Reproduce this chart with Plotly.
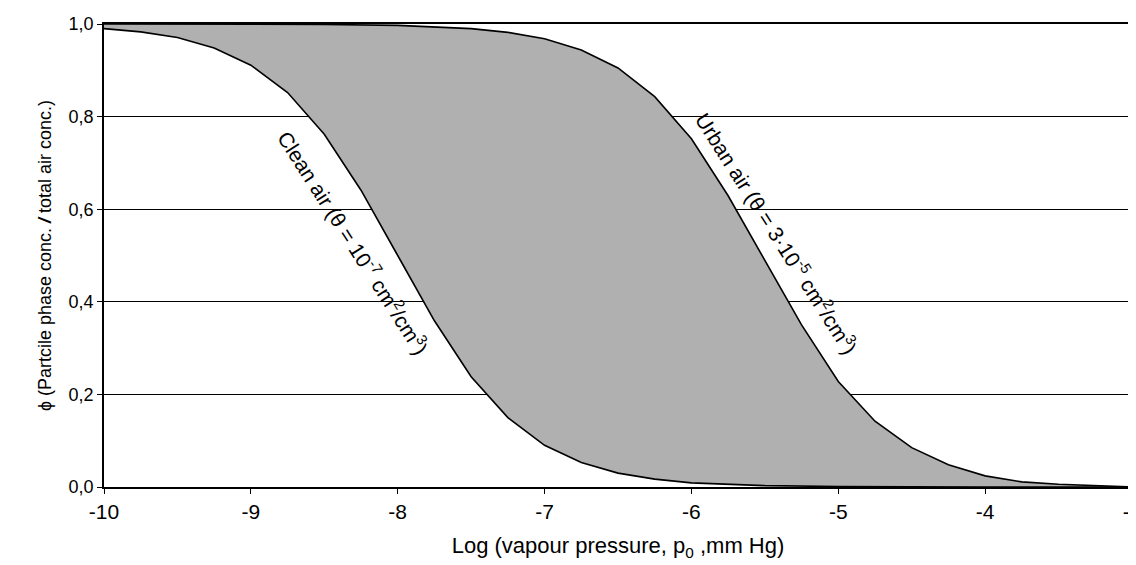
import plotly.graph_objects as go

# Clean air curve (theta = 1e-7 cm2/cm3)
clean_x = [-10.0, -9.75, -9.5, -9.25, -9.0, -8.75, -8.5, -8.25, -8.0, -7.75, -7.5,
           -7.25, -7.0, -6.75, -6.5, -6.25, -6.0, -5.5, -5.0, -4.5, -4.0, -3.0]
clean_y = [0.990, 0.983, 0.971, 0.948, 0.911, 0.852, 0.762, 0.641, 0.500, 0.359, 0.238,
           0.150, 0.090, 0.053, 0.030, 0.017, 0.009, 0.003, 0.001, 0.0, 0.0, 0.0]

# Urban air curve (theta = 3e-5 cm2/cm3)
urban_x = [-10.0, -8.5, -8.0, -7.75, -7.5, -7.25, -7.0, -6.75, -6.5, -6.25, -6.0,
           -5.75, -5.5, -5.25, -5.0, -4.75, -4.5, -4.25, -4.0, -3.75, -3.5, -3.25, -3.0]
urban_y = [1.0, 0.999, 0.997, 0.994, 0.990, 0.982, 0.968, 0.944, 0.905, 0.843, 0.752,
           0.629, 0.489, 0.350, 0.228, 0.142, 0.085, 0.048, 0.024, 0.011, 0.006, 0.003, 0.0]

x_ticks = [-10, -9, -8, -7, -6, -5, -4, -3]
x_ticklabels = ["-10", "-9", "-8", "-7", "-6", "-5", "-4", "-3"]
y_ticks = [0.0, 0.2, 0.4, 0.6, 0.8, 1.0]
y_ticklabels = ["0,0", "0,2", "0,4", "0,6", "0,8", "1,0"]

FONT = "Liberation Sans, Arial, sans-serif"

fig = go.Figure()

# shaded band between the two curves
fig.add_trace(go.Scatter(
    x=clean_x + urban_x[::-1],
    y=clean_y + urban_y[::-1],
    fill="toself", fillcolor="#b0b0b0",
    line=dict(width=0), mode="lines", hoverinfo="skip", showlegend=False))

fig.add_trace(go.Scatter(x=clean_x, y=clean_y, mode="lines",
                         line=dict(color="black", width=1.6),
                         showlegend=False))
fig.add_trace(go.Scatter(x=urban_x, y=urban_y, mode="lines",
                         line=dict(color="black", width=1.6),
                         showlegend=False))

fig.add_annotation(x=-8.30, y=0.529, xref="x", yref="y",
                   text="Clean air (θ = 10<sup>-7</sup> cm<sup>2</sup>/cm<sup>3</sup>)",
                   showarrow=False, textangle=57.5,
                   font=dict(family=FONT, size=21, color="black"))
fig.add_annotation(x=-5.415, y=0.549, xref="x", yref="y",
                   text="Urban air (θ = 3·10<sup>-5</sup> cm<sup>2</sup>/cm<sup>3</sup>)",
                   showarrow=False, textangle=57.5,
                   font=dict(family=FONT, size=21, color="black"))

fig.update_layout(
    width=1136, height=565,
    margin=dict(l=96, r=3, t=16, b=86),
    paper_bgcolor="white", plot_bgcolor="white",
    font=dict(family=FONT, size=18, color="black"),
    xaxis=dict(range=[-10, -3], tickvals=x_ticks, ticktext=x_ticklabels,
               showgrid=False, zeroline=False,
               showline=True, linecolor="black", linewidth=1.5, mirror=True,
               ticks="outside", ticklen=5, tickcolor="black",
               tickfont=dict(size=21), ticklabeloverflow="allow",
               title=dict(text="Log (vapour pressure, p<sub>0</sub> ,mm Hg)",
                          font=dict(size=22), standoff=16)),
    yaxis=dict(range=[0, 1], tickvals=y_ticks, ticktext=y_ticklabels,
               showgrid=True, gridcolor="black", gridwidth=1.3, zeroline=False,
               showline=True, linecolor="black", linewidth=1.5, mirror=True,
               ticks="outside", ticklen=5, tickcolor="black",
               tickfont=dict(size=18),
               title=dict(text="ϕ (Partcile phase conc. <b><i>/</i></b> total air conc.)",
                          font=dict(size=18), standoff=12)),
)

fig.write_html("out.html")
